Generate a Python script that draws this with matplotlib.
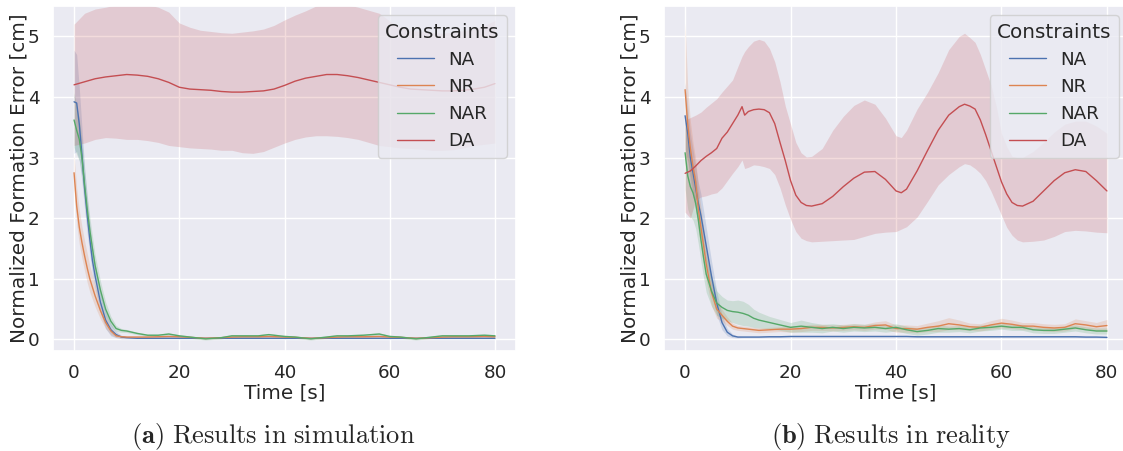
import numpy as np
import matplotlib
matplotlib.use("Agg")
import matplotlib.pyplot as plt
import seaborn as sns

#### simulation panel ####
t_sim = [0, 0.5, 1, 1.5, 2, 2.5, 3, 3.5, 4, 5,
         6, 7, 8, 9, 10, 12, 14, 16, 18, 20,
         22, 25, 28, 30, 32, 35, 37, 40, 42, 45,
         48, 50, 52, 55, 58, 60, 62, 65, 68, 70,
         72, 75, 78, 80]

na_sim = [3.92, 3.9, 3.55, 3.05, 2.5, 2.05, 1.65, 1.3, 1.05, 0.62,
          0.32, 0.16, 0.08, 0.04, 0.03, 0.02, 0.02, 0.02, 0.02, 0.02] + [0.02] * 24
na_sim_sd = [0.85, 0.8, 0.6, 0.45, 0.35, 0.3, 0.25, 0.22, 0.2, 0.18,
             0.14, 0.1, 0.05, 0.03, 0.02] + [0.01] * 29

nr_sim = [2.75, 2.2, 1.85, 1.6, 1.38, 1.18, 1.0, 0.86, 0.72, 0.48,
          0.28, 0.14, 0.06, 0.045, 0.04, 0.04, 0.04, 0.045, 0.05, 0.045,
          0.035, 0.02, 0.03, 0.04, 0.045, 0.045, 0.05, 0.04, 0.035, 0.02,
          0.03, 0.04, 0.045, 0.045, 0.05, 0.04, 0.035, 0.02, 0.03, 0.04,
          0.045, 0.045, 0.05, 0.045]
nr_sim_sd = [0.3, 0.3, 0.28, 0.26, 0.25, 0.24, 0.22, 0.2, 0.18, 0.14,
             0.1, 0.06, 0.03, 0.02] + [0.015] * 30

nar_sim = [3.62, 3.45, 3.3, 3.0, 2.55, 2.15, 1.8, 1.5, 1.22, 0.82,
           0.5, 0.3, 0.18, 0.15, 0.14, 0.1, 0.07, 0.07, 0.09, 0.06,
           0.04, 0.01, 0.03, 0.06, 0.06, 0.06, 0.08, 0.05, 0.04, 0.01,
           0.04, 0.06, 0.06, 0.07, 0.09, 0.05, 0.04, 0.01, 0.04, 0.06,
           0.06, 0.06, 0.07, 0.06]
nar_sim_sd = [0.45, 0.4, 0.35, 0.3, 0.26, 0.24, 0.22, 0.2, 0.18, 0.15,
              0.12, 0.08, 0.05, 0.03, 0.025] + [0.02] * 29

t_da_sim = list(range(0, 81, 2))
da_sim = [4.2, 4.25, 4.3, 4.33, 4.35, 4.37, 4.36, 4.34, 4.3, 4.24,
          4.16, 4.13, 4.12, 4.11, 4.09, 4.08, 4.08, 4.09, 4.1, 4.13,
          4.19, 4.26, 4.31, 4.34, 4.37, 4.37, 4.35, 4.32, 4.28, 4.24,
          4.2, 4.16, 4.13, 4.12, 4.11, 4.1, 4.1, 4.11, 4.13, 4.16, 4.22]
da_sim_hi = [5.2, 5.38, 5.45, 5.48, 5.52, 5.55, 5.55, 5.52, 5.48, 5.4,
             5.22, 5.15, 5.1, 5.08, 5.06, 5.05, 5.07, 5.09, 5.12, 5.18,
             5.27, 5.35, 5.42, 5.5, 5.53, 5.53, 5.52, 5.48, 5.43, 5.38,
             5.25, 5.15, 5.1, 5.08, 5.06, 5.05, 5.07, 5.09, 5.12, 5.18, 5.26]
da_sim_lo = [3.2, 3.24, 3.3, 3.33, 3.32, 3.3, 3.3, 3.28, 3.25, 3.2,
             3.18, 3.16, 3.15, 3.14, 3.12, 3.12, 3.08, 3.07, 3.1, 3.17,
             3.24, 3.3, 3.34, 3.36, 3.36, 3.35, 3.33, 3.3, 3.25, 3.2,
             3.18, 3.16, 3.15, 3.14, 3.12, 3.12, 3.13, 3.16, 3.2, 3.22, 3.24]

#### reality panel ####
t_real = [0, 0.5, 1, 1.5, 2, 2.5, 3, 3.5, 4, 5,
          6, 7, 8, 9, 10, 11, 12, 13, 14, 16,
          18, 20, 22, 24, 26, 28, 30, 32, 34, 36,
          38, 40, 42, 44, 46, 48, 50, 52, 54, 56,
          58, 60, 62, 64, 66, 68, 70, 72, 74, 76,
          78, 80]

na_real = [3.69, 3.4, 3.0, 2.75, 2.5, 2.25, 2.05, 1.8, 1.55, 1.05,
           0.6, 0.28, 0.12, 0.06, 0.04, 0.04, 0.04, 0.04, 0.04, 0.045,
           0.045, 0.05, 0.05, 0.05, 0.05, 0.05, 0.05, 0.05, 0.05, 0.05,
           0.05, 0.05, 0.05, 0.045, 0.045, 0.045, 0.045, 0.045, 0.045, 0.045,
           0.045, 0.045, 0.045, 0.045, 0.045, 0.045, 0.045, 0.045, 0.045, 0.04,
           0.04, 0.035]
na_real_sd = [0.55, 0.45, 0.4, 0.38, 0.36, 0.35, 0.35, 0.33, 0.3, 0.25,
              0.2, 0.12, 0.06, 0.03, 0.015] + [0.01] * 37

nr_real = [4.12, 3.55, 3.15, 2.85, 2.6, 2.15, 1.85, 1.55, 1.25, 0.78,
           0.5, 0.4, 0.3, 0.22, 0.19, 0.18, 0.17, 0.16, 0.15, 0.16,
           0.17, 0.17, 0.18, 0.2, 0.2, 0.19, 0.2, 0.21, 0.2, 0.23,
           0.24, 0.18, 0.18, 0.17, 0.2, 0.22, 0.26, 0.24, 0.21, 0.2,
           0.24, 0.27, 0.25, 0.22, 0.22, 0.2, 0.19, 0.2, 0.26, 0.24,
           0.21, 0.23]
nr_real_sd = [1.1, 0.6, 0.45, 0.4, 0.38, 0.35, 0.33, 0.3, 0.28, 0.22,
              0.15, 0.1, 0.07, 0.05, 0.04, 0.04, 0.04, 0.04, 0.04, 0.04,
              0.04, 0.05, 0.05, 0.05, 0.05, 0.05, 0.05, 0.05, 0.05, 0.06,
              0.07, 0.06, 0.06, 0.06, 0.07, 0.09, 0.1, 0.08, 0.06, 0.06,
              0.07, 0.08, 0.07, 0.06, 0.06, 0.06, 0.06, 0.06, 0.08, 0.07,
              0.07, 0.1]

nar_real = [3.08, 2.7, 2.52, 2.42, 2.25, 1.98, 1.65, 1.35, 1.08, 0.8,
            0.6, 0.53, 0.48, 0.46, 0.45, 0.43, 0.4, 0.35, 0.32, 0.28,
            0.24, 0.2, 0.22, 0.2, 0.18, 0.2, 0.18, 0.2, 0.19, 0.2,
            0.18, 0.2, 0.16, 0.13, 0.15, 0.18, 0.17, 0.18, 0.16, 0.19,
            0.2, 0.22, 0.2, 0.2, 0.16, 0.15, 0.15, 0.17, 0.19, 0.16,
            0.14, 0.14]
nar_real_sd = [0.6, 0.55, 0.5, 0.45, 0.42, 0.4, 0.36, 0.33, 0.3, 0.25,
               0.2, 0.18, 0.17, 0.18, 0.2, 0.2, 0.18, 0.15, 0.13, 0.1,
               0.09, 0.08, 0.1, 0.08, 0.07, 0.06] + [0.06] * 10 + [0.05] * 16

t_da_real = [0, 1, 2, 3, 4, 5, 6, 7, 8, 9,
             10, 10.8, 11.3, 12, 13, 14, 15, 16, 17, 18,
             19, 20, 21, 22, 23, 24, 26, 28, 30, 32,
             34, 36, 38, 40, 41, 42, 44, 46, 48, 50,
             52, 53, 54, 55, 56, 57, 58, 59, 60, 61,
             62, 63, 64, 66, 68, 70, 72, 74, 76, 78,
             80]
da_real = [2.74, 2.78, 2.86, 2.95, 3.02, 3.08, 3.15, 3.32, 3.42, 3.56,
           3.7, 3.84, 3.7, 3.76, 3.79, 3.8, 3.79, 3.74, 3.56, 3.25,
           2.95, 2.62, 2.38, 2.26, 2.21, 2.2, 2.24, 2.36, 2.52, 2.66,
           2.76, 2.77, 2.64, 2.45, 2.42, 2.48, 2.78, 3.12, 3.45, 3.7,
           3.84, 3.88, 3.85, 3.8, 3.62, 3.38, 3.12, 2.86, 2.6, 2.4,
           2.26, 2.21, 2.2, 2.28, 2.45, 2.62, 2.75, 2.8, 2.77, 2.62,
           2.45]
da_real_hi = [3.62, 3.66, 3.7, 3.75, 3.83, 3.9, 3.97, 4.08, 4.18, 4.28,
              4.5, 4.67, 4.75, 4.83, 4.92, 4.95, 4.92, 4.8, 4.58, 4.25,
              3.85, 3.55, 3.25, 3.08, 3.01, 3.02, 3.15, 3.45, 3.68, 3.86,
              3.95, 3.88, 3.65, 3.36, 3.33, 3.45, 3.8, 4.08, 4.4, 4.78,
              5.0, 5.05, 4.98, 4.9, 4.7, 4.45, 4.2, 3.85, 3.4, 3.18,
              3.02, 3.0, 3.0, 3.1, 3.25, 3.42, 3.55, 3.6, 3.6, 3.52,
              3.4]
da_real_lo = [2.1, 2.0, 2.3, 2.35, 2.37, 2.4, 2.42, 2.5, 2.62, 2.74,
              2.85, 2.96, 2.82, 2.84, 2.88, 2.87, 2.85, 2.82, 2.72, 2.5,
              2.22, 1.98, 1.78, 1.67, 1.63, 1.61, 1.62, 1.63, 1.64, 1.65,
              1.7, 1.75, 1.77, 1.78, 1.82, 1.86, 2.02, 2.28, 2.55, 2.72,
              2.85, 2.9, 2.88, 2.82, 2.74, 2.62, 2.45, 2.25, 2.05, 1.85,
              1.72, 1.64, 1.61, 1.62, 1.64, 1.7, 1.78, 1.8, 1.79, 1.77,
              1.76]

labels = ['NA', 'NR', 'NAR', 'DA']
captions = [r'$\mathbf{(a)}\ \mathrm{Results\ in\ simulation}$',
            r'$\mathbf{(b)}\ \mathrm{Results\ in\ reality}$']
###################################

sns.set_theme(style='darkgrid', font_scale=1.2)
plt.rcParams['mathtext.fontset'] = 'cm'
colors = sns.color_palette('deep')


def draw_panel(ax, t, means, sds, t_da, da, da_lo, da_hi):
    for i, (m, sd) in enumerate(zip(means, sds)):
        m = np.array(m)
        sd = np.array(sd)
        ax.fill_between(t, m - sd, m + sd, color=colors[i], alpha=0.2, lw=0)
        ax.plot(t, m, color=colors[i], lw=1.0, label=labels[i])
    ax.fill_between(t_da, da_lo, da_hi, color=colors[3], alpha=0.2, lw=0)
    ax.plot(t_da, da, color=colors[3], lw=1.0, label=labels[3])
    ax.set_xlim(-4, 84)
    ax.set_ylim(-0.19, 5.5)
    ax.set_xticks([0, 20, 40, 60, 80])
    ax.set_yticks([0, 1, 2, 3, 4, 5])
    ax.set_xlabel('Time [s]', labelpad=1)
    ax.set_ylabel('Normalized Formation Error [cm]', labelpad=0)
    ax.legend(title='Constraints', loc='upper right')


fig = plt.figure(figsize=(11.23, 4.51), dpi=100)
ax1 = fig.add_axes([53 / 1123, 100 / 451, 463 / 1123, 345 / 451])
ax2 = fig.add_axes([664 / 1123, 100 / 451, 464 / 1123, 345 / 451])

draw_panel(ax1, t_sim, [na_sim, nr_sim, nar_sim], [na_sim_sd, nr_sim_sd, nar_sim_sd],
           t_da_sim, da_sim, da_sim_lo, da_sim_hi)
draw_panel(ax2, t_real, [na_real, nr_real, nar_real], [na_real_sd, nr_real_sd, nar_real_sd],
           t_da_real, da_real, da_real_lo, da_real_hi)

fig.text(273 / 1123, 1 - 436 / 451, captions[0], ha='center', va='center', fontsize=19)
fig.text(891 / 1123, 1 - 436 / 451, captions[1], ha='center', va='center', fontsize=19)

fig.savefig('out.png', dpi=100)
